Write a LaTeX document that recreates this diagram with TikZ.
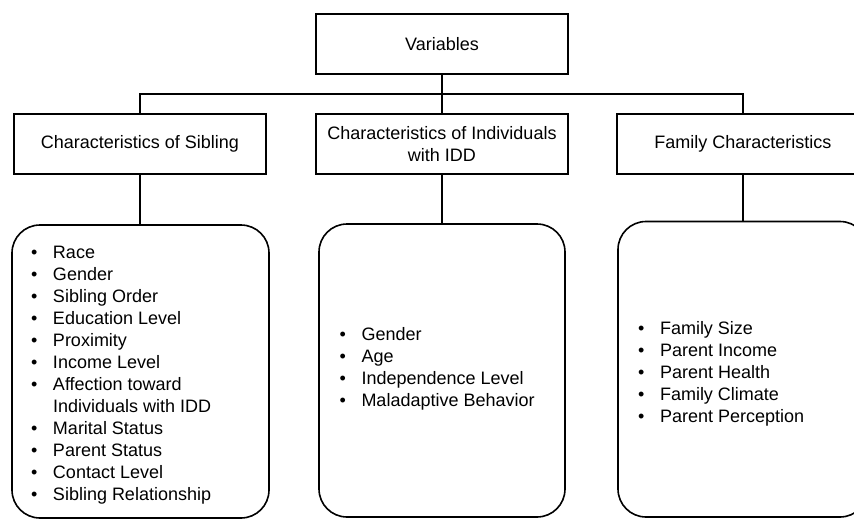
\documentclass[tikz,border=0pt]{standalone}
\usepackage{fontspec}
\setmainfont{Liberation Sans}
\begin{document}
\begin{tikzpicture}[x=1pt,y=-1pt,
  box/.style={draw, line width=1.6pt, minimum width=252pt, minimum height=60pt, inner sep=0pt, align=center, font=\fontsize{18}{22}\selectfont},
  rbox/.style={draw, line width=1.6pt, rounded corners=28pt, inner sep=0pt},
  lst/.style={anchor=base west, inner sep=0pt, font=\fontsize{18}{22}\selectfont},
  conn/.style={line width=1.6pt, line join=miter}]
\useasboundingbox (0,0) rectangle (854,519);
\fill[white] (0,0) rectangle (854,519);
% headers
\node[box] (var) at (442,44) {Variables};
\node[box] (c1) at (140,144) {Characteristics of Sibling};
\node[box] (c2) at (442,144) {Characteristics of Individuals\\with IDD};
\node[box] (c3) at (743,144) {Family Characteristics};
% rounded list boxes
\node[rbox, minimum width=257pt, minimum height=293pt] (l1) at (140.5,371.5) {};
\node[rbox, minimum width=246pt, minimum height=293pt] (l2) at (442,370.5) {};
\node[rbox, minimum width=250pt, minimum height=295.5pt] (l3) at (743,369.25) {};
% bus
\coordinate (b1) at (140,94);
\coordinate (b2) at (442,94);
\coordinate (b3) at (743,94);
\draw[conn] (c1.north) -- (b1) -- (b3) -- (c3.north);
\draw[conn] (var.south) -- (b2) -- (c2.north);
\draw[conn] (c1.south) -- (c1.south |- l1.north);
\draw[conn] (c2.south) -- (c2.south |- l2.north);
\draw[conn] (c3.south) -- (c3.south |- l3.north);
% lists
\node[lst] (t1) at (31,258.3) {\begin{tabular}[t]{@{}l@{\hspace{15.5pt}}l@{}}
• & Race\\
• & Gender\\
• & Sibling Order\\
• & Education Level\\
• & Proximity\\
• & Income Level\\
• & Affection toward\\
  & Individuals with IDD\\
• & Marital Status\\
• & Parent Status\\
• & Contact Level\\
• & Sibling Relationship
\end{tabular}};
\node[lst] (t2) at (339.5,340.7) {\begin{tabular}[t]{@{}l@{\hspace{15.5pt}}l@{}}
• & Gender\\
• & Age\\
• & Independence Level\\
• & Maladaptive Behavior
\end{tabular}};
\node[lst] (t3) at (638,334.3) {\begin{tabular}[t]{@{}l@{\hspace{15.5pt}}l@{}}
• & Family Size\\
• & Parent Income\\
• & Parent Health\\
• & Family Climate\\
• & Parent Perception
\end{tabular}};
\end{tikzpicture}
\end{document}
